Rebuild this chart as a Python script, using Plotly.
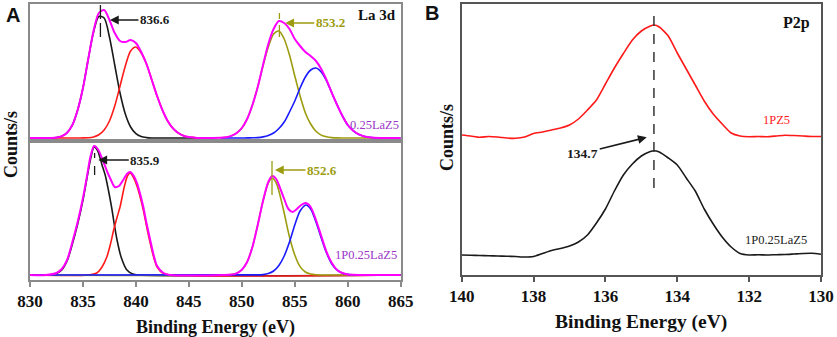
import plotly.graph_objects as go

# ---------------- DATA ----------------
# Panel A (La 3d), top subplot: 0.25LaZ5   (intensity in arbitrary units)
TA_L_E = [830.0, 831.5, 832.0, 832.5, 833.0, 833.5, 834.0, 834.5, 835.0, 835.5, 836.0, 836.5, 837.0, 837.5,
          838.0, 838.5, 839.0, 839.5, 840.0, 840.5, 841.0, 841.5, 842.0, 842.5, 843.0, 843.5, 844.0,
          844.5, 845.0, 845.5, 846.0]
TA_BLACK = [0, 0, 0.1, 0.5, 1.8, 5.3, 13, 28, 50, 79, 106, 121.5, 120, 101, 73, 45, 24, 11, 4.3, 1.4,
            0.4, 0, 0, 0, 0, 0, 0, 0, 0, 0, 0]
TA_RED = [0, 0, 0, 0, 0, 0, 0, 0, 0.1, 0.3, 1.1, 3.2, 8, 17, 32, 52, 72, 87, 91, 85, 74, 58, 42, 28, 17,
          9.6, 5, 2.3, 1, 0.4, 0]
TA_L_ENV = [0, 0, 0.1, 0.5, 1.8, 5.3, 13, 28, 50, 79, 107, 125, 128, 118, 105, 97, 96, 98, 95, 86, 74,
            58, 42, 28, 17, 9.6, 5, 2.3, 1, 0.4, 0]

TA_R_E = [848.0, 848.5, 849.0, 849.5, 850.0, 850.5, 851.0, 851.5, 852.0, 852.5, 853.0, 853.5, 854.0,
          854.5, 855.0, 855.5, 856.0, 856.5, 857.0, 857.5, 858.0, 858.5, 859.0, 859.5, 860.0, 860.5,
          861.0, 861.5, 862.0, 862.5, 863.0, 865.0]
TA_OLIVE = [0.3, 0.8, 2.1, 4.9, 10, 19, 33, 51, 72, 91, 104, 107, 99, 83, 62, 42, 25, 14, 6.7, 2.9, 1.2,
            0.4, 0.1, 0, 0, 0, 0, 0, 0, 0, 0, 0]
TA_BLUE = [0, 0, 0, 0, 0, 0.1, 0.2, 0.4, 1.1, 2.5, 5, 9.5, 16, 26, 37, 50, 61, 68, 70, 66, 57, 45, 33,
           22, 13, 7.4, 3.8, 1.8, 0.8, 0.3, 0.1, 0]
TA_R_ENV = [0.3, 0.8, 2.1, 4.9, 10, 19, 33, 51, 73, 94, 109, 117, 115, 109, 99, 92, 86, 82, 77, 69, 58,
            45, 33, 22, 13, 7.4, 3.8, 1.8, 0.8, 0.3, 0.1, 0]

# Panel A, bottom subplot: 1P0.25LaZ5
BA_BLACK_E = [830.0, 832.0, 832.5, 833.0, 833.5, 834.0, 834.5, 835.0, 835.5, 835.8, 836.05, 836.4, 836.8,
              837.1, 837.4, 837.7, 838.0, 838.2, 838.6, 839.15, 839.7, 840.2, 865.0]
BA_BLACK = [0, 0, 1.5, 5, 14, 31, 51, 75, 104, 120, 128, 124, 110, 100, 85, 68, 48, 36, 18, 5, 1, 0, 0]
BA_RED_E = [830.0, 835.5, 836.3, 836.8, 837.25, 837.6, 837.9, 838.2, 838.5, 838.9, 839.2, 839.45, 839.75,
            840.1, 840.4, 840.7, 841.0, 841.35, 841.7, 842.0, 842.6, 843.2, 865.0]
BA_RED = [0, 0, 2, 8, 18, 31, 45, 57, 68, 88, 99, 102, 98, 89, 78, 65, 49, 32, 17, 8, 1.5, 0, 0]
BA_OLIVE_E = [830.0, 849.0, 849.5, 850.0, 850.5, 851.0, 851.5, 852.0, 852.5, 852.87, 853.25, 853.5, 854.0,
              854.5, 855.0, 855.5, 856.0, 856.5, 857.0, 857.5, 865.0]
BA_OLIVE = [0, 0.5, 1.7, 5.3, 13, 28, 50, 74, 92, 97, 92, 84, 62, 38, 20, 8.4, 3, 0.9, 0.2, 0, 0]
BA_BLUE_E = [830.0, 851.5, 852.0, 852.5, 853.0, 853.5, 854.0, 854.5, 855.0, 855.5, 856.05, 856.5, 857.0,
             857.5, 858.0, 858.5, 859.0, 859.5, 860.0, 860.5, 861.0, 865.0]
BA_BLUE = [0, 0.1, 0.4, 1.4, 4, 9.5, 19, 33, 50, 64, 70, 66, 53, 37, 22, 11, 4.8, 1.8, 0.6, 0.2, 0, 0]
BA_ENV_E = [830.0, 831.5, 832.5, 833.0, 833.5, 834.0, 834.5, 835.0, 835.4, 835.7, 836.05, 836.4, 836.9,
            837.3, 837.6, 838.0, 838.4, 838.8, 839.15, 839.45, 839.8, 840.1, 840.4, 840.7, 841.0, 841.35,
            841.7, 842.0, 842.6, 843.2, 849.0, 849.5, 850.0, 850.5, 851.0, 851.5, 852.0, 852.5, 852.87,
            853.25, 853.5, 854.0, 854.4, 854.8, 855.2, 855.6, 856.05, 856.5, 857.0, 857.5, 858.0, 858.5,
            859.0, 859.5, 860.0, 860.5, 861.0, 865.0]
BA_ENV = [0, 0, 2, 6, 15, 33, 53, 77, 100, 118, 129, 126, 114, 103, 96, 88, 89, 95, 101, 103, 99, 92, 81,
          68, 52, 35, 19, 9, 2, 0, 0.5, 1.7, 5.3, 13, 28, 50, 74, 93, 99, 96, 90, 76, 66, 63, 66, 70, 72,
          68, 55, 39, 23, 12, 5, 2, 0.6, 0.2, 0, 0]

A_TICKS = [830, 835, 840, 845, 850, 855, 860, 865]
A_TOP_PEAKS = ["836.6", "853.2"]
A_BOT_PEAKS = ["835.9", "852.6"]

# Panel B (P 2p)
B_E = [140.0, 139.75, 139.5, 139.25, 139.0, 138.75, 138.5, 138.25, 138.0, 137.75, 137.5, 137.25, 137.0,
       136.75, 136.5, 136.25, 136.0, 135.75, 135.5, 135.25, 135.0, 134.75, 134.65, 134.5, 134.25, 134.0,
       133.75, 133.5, 133.25, 133.0, 132.75, 132.5, 132.25, 132.0, 131.75, 131.5, 131.25, 131.0, 130.75,
       130.5, 130.25, 130.0]
B_1PZ5 = [140, 139, 137.7, 138.5, 138, 137, 136.7, 138, 141.5, 143, 145, 147, 150, 156, 165, 175, 191,
          207, 221.5, 235, 244, 249, 250, 248, 239, 222, 206, 190, 174, 161, 151, 142, 139, 138.3, 138.5,
          138.3, 139, 139.8, 139.5, 139, 138.5, 138.5]
B_1P025 = [20, 19.8, 19.5, 19.3, 19, 18.8, 18.5, 18, 18.5, 21.5, 24.5, 26.5, 29, 33, 40, 52, 66, 84, 100,
           111, 119, 123.5, 124.3, 123, 117, 110, 97, 84, 66, 51, 38, 28, 21.5, 20, 20.2, 20, 20.3, 20.5,
           21, 21.5, 21.7, 20.7]
B_TICKS = [140, 138, 136, 134, 132, 130]
B_PEAK = "134.7"

# ---------------- STYLE ----------------
SERIF = "Liberation Serif"
SANS = "Liberation Sans"
C_BLACK, C_RED, C_OLIVE, C_BLUE, C_MAG = "#1a1a1a", "#ff1a1a", "#9c9c10", "#1a1aff", "#ff00ff"
C_PURPLE = "#9b35c8"
FRAME_A, FRAME_B = "#8a8a8a", "#555555"
W, H = 837, 337


def b(t):
    return f"<b>{t}</b>"


fig = go.Figure()


def line(x, y, color, xa, ya, width=1.6, smooth=0.8):
    fig.add_trace(go.Scatter(x=x, y=y, mode="lines", xaxis=xa, yaxis=ya,
                             line=dict(color=color, width=width, shape="spline", smoothing=smooth),
                             hoverinfo="skip", showlegend=False))


# top A
line(TA_L_E, TA_BLACK, C_BLACK, "x", "y")
line(TA_L_E, TA_RED, C_RED, "x", "y")
line(TA_R_E, TA_OLIVE, C_OLIVE, "x", "y")
line(TA_R_E, TA_BLUE, C_BLUE, "x", "y")
line(TA_L_E + TA_R_E, TA_L_ENV + TA_R_ENV, C_MAG, "x", "y", width=2)
# bottom A
line(BA_BLACK_E, BA_BLACK, C_BLACK, "x2", "y2")
line(BA_RED_E, BA_RED, C_RED, "x2", "y2")
line(BA_OLIVE_E, BA_OLIVE, C_OLIVE, "x2", "y2")
line(BA_BLUE_E, BA_BLUE, C_BLUE, "x2", "y2")
line(BA_ENV_E, BA_ENV, C_MAG, "x2", "y2", width=2)
# B
line(B_E, B_1PZ5, C_RED, "x3", "y3", width=1.6, smooth=0.6)
line(B_E, B_1P025, C_BLACK, "x3", "y3", width=1.6, smooth=0.6)

xA = [30 / W, 400.7 / W]
xB = [461.7 / W, 821 / W]


def frame(color):
    return dict(showline=True, mirror=True, linecolor=color, linewidth=1.5, showgrid=False,
                zeroline=False)


tickfont = dict(family=SERIF, size=17, color="#111")
fig.update_layout(
    width=W, height=H, margin=dict(l=0, r=0, t=0, b=0, autoexpand=False),
    paper_bgcolor="white", plot_bgcolor="white", showlegend=False,
    font=dict(family=SERIF),
    xaxis=dict(domain=xA, anchor="y", range=[830, 865], showticklabels=False, ticks="", **frame(FRAME_A)),
    yaxis=dict(domain=[196 / H, 333 / H], anchor="x", range=[-3, 134], showticklabels=False, ticks="",
               **frame(FRAME_A)),
    xaxis2=dict(domain=xA, anchor="y2", range=[830, 865], tickvals=A_TICKS,
                ticktext=[b(t) for t in A_TICKS], ticks="outside", ticklen=5,
                tickwidth=1.5, tickcolor=FRAME_A, tickfont=tickfont, **frame(FRAME_A)),
    yaxis2=dict(domain=[57 / H, 196 / H], anchor="x2", range=[-5, 134], showticklabels=False, ticks="",
                **frame(FRAME_A)),
    xaxis3=dict(domain=xB, anchor="y3", range=[140, 130], tickvals=B_TICKS,
                ticktext=[b(t) for t in B_TICKS], ticks="outside", ticklen=5,
                tickwidth=1.5, tickcolor=FRAME_B, tickfont=tickfont, **frame(FRAME_B)),
    yaxis3=dict(domain=[62 / H, 333 / H], anchor="x3", range=[0, 271], showticklabels=False, ticks="",
                **frame(FRAME_B)),
)

# dashed peak markers
shapes = [
    dict(xref="x", yref="y", x0=836.65, x1=836.65, y0=101, y1=135, line=dict(color=C_BLACK, width=1.3, dash="dash")),
    dict(xref="x", yref="y", x0=853.55, x1=853.55, y0=101, y1=125, line=dict(color=C_OLIVE, width=1.3, dash="dash")),
    dict(xref="x2", yref="y2", x0=836.1, x1=836.1, y0=100, y1=122, line=dict(color=C_BLACK, width=1.3, dash="dash")),
    dict(xref="x2", yref="y2", x0=852.85, x1=852.85, y0=80, y1=115, line=dict(color=C_OLIVE, width=1.3, dash="dash")),
    dict(xref="x3", yref="y3", x0=134.65, x1=134.65, y0=87, y1=263, line=dict(color="#333", width=1.5, dash="dash")),
]
fig.update_layout(shapes=shapes)

ann = []


def arrow(text, xh, yh, xr, yr, ax, ay, color, size=13):
    ann.append(dict(text=b(text), x=xh, y=yh, xref=xr, yref=yr, ax=ax, ay=ay, showarrow=True,
                    arrowhead=2, arrowsize=1.1, arrowwidth=1.6, arrowcolor=color, standoff=0,
                    font=dict(family=SERIF, size=size, color=color)))


arrow(A_TOP_PEAKS[0], 837.55, 118, "x", "y", 45, 0, C_BLACK)
arrow(A_TOP_PEAKS[1], 854.1, 115, "x", "y", 45, 0, C_OLIVE)
arrow(A_BOT_PEAKS[0], 836.45, 115, "x2", "y2", 47, 0, C_BLACK)
arrow(A_BOT_PEAKS[1], 853.13, 105, "x2", "y2", 47, 0, C_OLIVE)
arrow(B_PEAK, 134.85, 137.7, "x3", "y3", -64, 16, C_BLACK, size=13.5)


def label(text, x, y, xr, yr, color, size, bold=False, anchor="right"):
    ann.append(dict(text=b(text) if bold else text, x=x, y=y, xref=xr, yref=yr, showarrow=False,
                    xanchor=anchor, yanchor="middle",
                    font=dict(family=SERIF, size=size, color=color)))


label("La 3d", 864.7, 123, "x", "y", "#111", 15, True)
label("0.25LaZ5", 865, 13, "x", "y", C_PURPLE, 12.5)
label("1P0.25LaZ5", 864.8, 20, "x2", "y2", C_PURPLE, 12.5)
label("P2p", 130.24, 252, "x3", "y3", "#111", 16, True)
label("1PZ5", 130.8, 155, "x3", "y3", C_RED, 12.5)
label("1P0.25LaZ5", 130.33, 35, "x3", "y3", "#222", 12.5)


# axis titles and panel letters (paper coordinates)
def ptxt(text, px, py, size, family=SERIF, angle=0):
    ann.append(dict(text=b(text), x=px / W, y=(H - py) / H, xref="paper", yref="paper", showarrow=False,
                    xanchor="center", yanchor="middle", textangle=angle,
                    font=dict(family=family, size=size, color="#111")))


ptxt("Binding Energy (eV)", 215, 327, 18)
ptxt("Binding Energy (eV)", 641, 322, 19.5)
ptxt("Counts/s", 11, 145, 18, angle=-90)
ptxt("Counts/s", 446.5, 137.5, 18, angle=-90)
ptxt("A", 12.5, 15, 20, family=SANS)
ptxt("B", 432, 12.5, 20, family=SANS)

fig.update_layout(annotations=ann)
fig.write_html("out.html", config={"displayModeBar": False},
               post_script="document.body.style.margin='0';document.body.style.overflow='hidden';")
